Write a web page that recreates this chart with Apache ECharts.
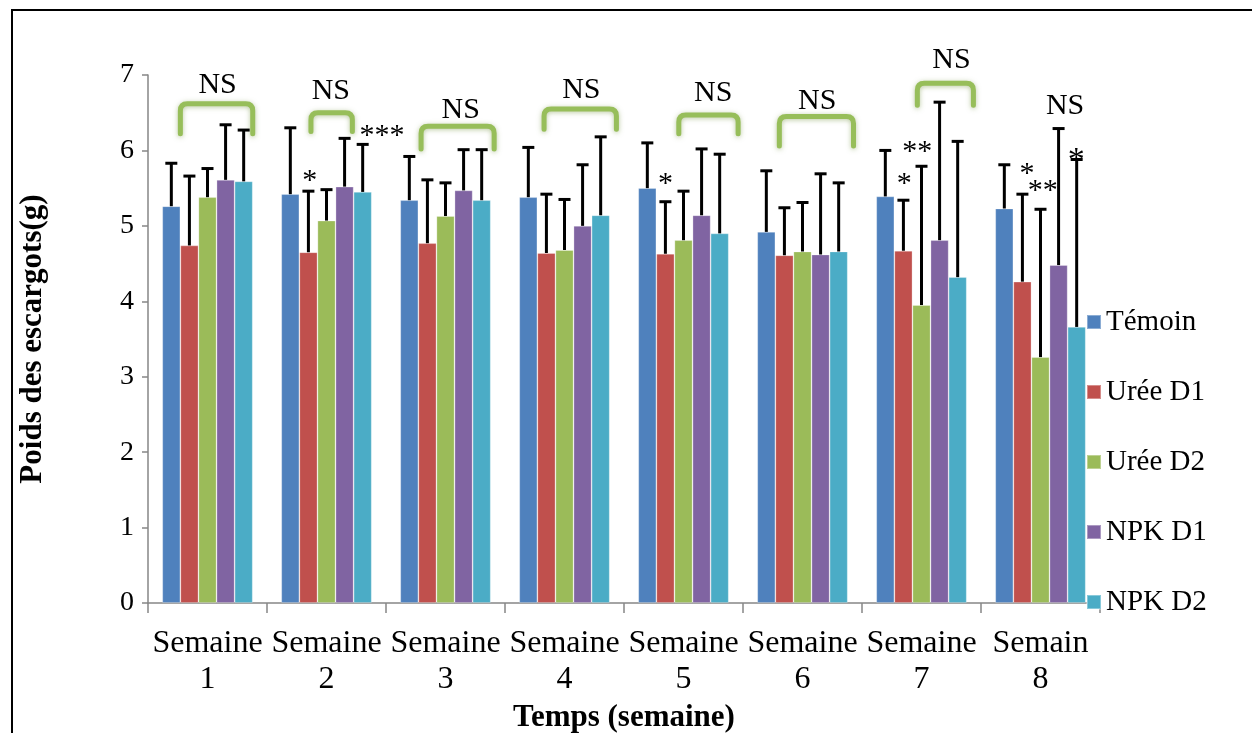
<!DOCTYPE html>
<html>
<head>
<meta charset="utf-8">
<script src="https://cdn.jsdelivr.net/npm/echarts@6/dist/echarts.min.js"></script>
<style>
  html, body { margin: 0; padding: 0; background: #fff; }
  #chart { width: 1252px; height: 733px; }
</style>
</head>
<body>
<div id="chart"></div>
<script>
// Semaines (catégories de l'axe X)
const categories = ['Semaine\n1', 'Semaine\n2', 'Semaine\n3', 'Semaine\n4',
                    'Semaine\n5', 'Semaine\n6', 'Semaine\n7', 'Semain\n8'];

// Noms des traitements
const seriesNames = ['Témoin', 'Urée D1', 'Urée D2', 'NPK D1', 'NPK D2'];

// Poids moyens des escargots (g) par semaine
const temoin = [5.26, 5.42, 5.34, 5.38, 5.50, 4.92, 5.39, 5.23];
const ureeD1 = [4.74, 4.65, 4.77, 4.64, 4.63, 4.61, 4.67, 4.26];
const ureeD2 = [5.38, 5.07, 5.13, 4.68, 4.81, 4.66, 3.95, 3.26];
const npkD1  = [5.61, 5.52, 5.47, 5.00, 5.14, 4.62, 4.81, 4.48];
const npkD2  = [5.59, 5.45, 5.34, 5.14, 4.90, 4.66, 4.32, 3.66];

// Écarts-types (barres d'erreur supérieures)
const temoinSd = [0.57, 0.88, 0.58, 0.66, 0.60, 0.81, 0.61, 0.58];
const ureeD1Sd = [0.92, 0.81, 0.84, 0.78, 0.69, 0.63, 0.67, 1.16];
const ureeD2Sd = [0.38, 0.41, 0.44, 0.67, 0.65, 0.65, 1.84, 1.96];
const npkD1Sd  = [0.73, 0.64, 0.54, 0.81, 0.88, 1.07, 1.83, 1.81];
const npkD2Sd  = [0.68, 0.63, 0.67, 1.04, 1.05, 0.91, 1.80, 2.22];

// Graduations de l'axe Y
const yTicks = [0, 1, 2, 3, 4, 5, 6, 7];

// Accolades de comparaison : [semaine, début (rang de barre), fin, haut, bas des branches]
const brackets = [
  [0, 1.00, 5.00, 6.62, 6.22],
  [1, 1.64, 3.93, 6.50, 6.25],
  [2, 1.15, 5.19, 6.32, 6.02],
  [3, 1.37, 5.37, 6.55, 6.28],
  [4, 2.24, 5.52, 6.47, 6.22],
  [5, 1.22, 5.32, 6.45, 6.06],
  [6, 2.27, 5.37, 6.89, 6.60]
];

// Mentions « NS » : [semaine, position (rang de barre), hauteur]
const nsLabels = [
  [0, 3.06, 6.87],
  [1, 2.74, 6.78],
  [2, 3.34, 6.54],
  [3, 3.43, 6.80],
  [4, 4.14, 6.76],
  [5, 3.31, 6.66],
  [6, 4.16, 7.20],
  [7, 3.86, 6.59]
];

// Seuils de signification : [semaine, position, hauteur, texte, taille]
const stars = [
  [1, 1.58, 5.70, '*', 30],
  [1, 5.57, 6.30, '***', 30],
  [4, 1.51, 5.66, '*', 30],
  [6, 1.55, 5.66, '*', 30],
  [6, 2.27, 6.08, '**', 30],
  [7, 1.75, 5.79, '*', 30],
  [7, 2.62, 5.57, '**', 30],
  [7, 4.48, 5.96, '*', 34]
];

const colors = ['#4F81BD', '#C0504D', '#9BBB59', '#8064A2', '#4BACC6'];
const FONT = 'Liberation Serif';
const CAT_GAP = 0.24;   // espace entre groupes (fraction de la largeur de catégorie)
const N_BARS = 5;

const means = [temoin, ureeD1, ureeD2, npkD1, npkD2];
const sds = [temoinSd, ureeD1Sd, ureeD2Sd, npkD1Sd, npkD2Sd];

// position horizontale d'un rang de barre dans un groupe (0 = bord gauche de la 1re barre)
function slotX(api, cat, slot) {
  const center = api.coord([cat, 0])[0];
  const catW = api.size([1, 0])[0];
  const barW = catW * (1 - CAT_GAP) / N_BARS;
  return center - (N_BARS / 2) * barW + slot * barW;
}

const errData = [];
means.forEach((arr, s) => {
  arr.forEach((v, c) => errData.push([c, s, v, sds[s][c]]));
});

const barSeries = seriesNames.map((name, i) => ({
  name: name,
  type: 'bar',
  data: means[i],
  barGap: '0%',
  barCategoryGap: (CAT_GAP * 100) + '%',
  itemStyle: { color: colors[i], borderColor: 'rgba(255,255,255,0.35)', borderWidth: 0.8 },
  z: 2
}));

const errorSeries = {
  type: 'custom',
  name: 'erreurs',
  silent: true,
  z: 5,
  data: errData,
  encode: { x: 0, y: 2 },
  renderItem: function (params, api) {
    const cat = api.value(0), s = api.value(1), m = api.value(2), sd = api.value(3);
    const x = slotX(api, cat, s + 0.5);
    const y0 = api.coord([cat, m])[1];
    const y1 = api.coord([cat, m + sd])[1];
    const capHalf = 6;
    return {
      type: 'group',
      children: [
        { type: 'line', shape: { x1: x, y1: y0, x2: x, y2: y1 },
          style: { stroke: '#000', lineWidth: 3 } },
        { type: 'line', shape: { x1: x - capHalf, y1: y1, x2: x + capHalf, y2: y1 },
          style: { stroke: '#000', lineWidth: 3 } }
      ]
    };
  }
};

const bracketSeries = {
  type: 'custom',
  name: 'accolades',
  silent: true,
  z: 4,
  data: brackets,
  encode: { x: 0, y: 3 },
  renderItem: function (params, api) {
    const cat = api.value(0);
    const xa = slotX(api, cat, api.value(1));
    const xb = slotX(api, cat, api.value(2));
    const yt = api.coord([cat, api.value(3)])[1];
    const yb = api.coord([cat, api.value(4)])[1];
    const r = 7;
    const path = 'M' + xa + ' ' + yb + ' L' + xa + ' ' + (yt + r) +
      ' Q' + xa + ' ' + yt + ' ' + (xa + r) + ' ' + yt +
      ' L' + (xb - r) + ' ' + yt +
      ' Q' + xb + ' ' + yt + ' ' + xb + ' ' + (yt + r) +
      ' L' + xb + ' ' + yb;
    return {
      type: 'path',
      shape: { pathData: path },
      style: {
        fill: null, stroke: '#97BE5A', lineWidth: 5, lineCap: 'round', lineJoin: 'round',
        shadowBlur: 5, shadowColor: 'rgba(120,150,70,0.5)', shadowOffsetY: 1
      }
    };
  }
};

const nsSeries = {
  type: 'custom',
  name: 'ns',
  silent: true,
  z: 6,
  data: nsLabels,
  encode: { x: 0, y: 2 },
  renderItem: function (params, api) {
    const cat = api.value(0);
    return {
      type: 'text',
      style: {
        text: 'NS', x: slotX(api, cat, api.value(1)), y: api.coord([cat, api.value(2)])[1],
        fontFamily: FONT, fontSize: 30, fill: '#000', align: 'center', verticalAlign: 'middle'
      }
    };
  }
};

const starSeries = {
  type: 'custom',
  name: 'etoiles',
  silent: true,
  z: 6,
  data: stars.map(d => [d[0], d[1], d[2], d[4], d[3]]),
  encode: { x: 0, y: 2 },
  renderItem: function (params, api) {
    const d = stars[params.dataIndex];
    const cat = d[0];
    return {
      type: 'text',
      style: {
        text: d[3], x: slotX(api, cat, d[1]), y: api.coord([cat, d[2]])[1] + 8,
        fontFamily: FONT, fontSize: d[4], fill: '#000', align: 'center', verticalAlign: 'middle'
      }
    };
  }
};

const chart = echarts.init(document.getElementById('chart'), null, { renderer: 'canvas' });

chart.setOption({
  animation: false,
  backgroundColor: '#fff',
  textStyle: { fontFamily: FONT },
  graphic: [{
    type: 'rect',
    shape: { x: 12, y: 10, width: 1300, height: 800 },
    style: { fill: null, stroke: '#000', lineWidth: 2 },
    silent: true, z: 100
  }],
  grid: { left: 148, right: 152, top: 75, bottom: 130, containLabel: false, outerBoundsMode: 'none' },
  legend: {
    data: seriesNames,
    orient: 'vertical',
    left: 1081,
    top: 302,
    icon: 'rect',
    itemWidth: 14,
    itemHeight: 14,
    itemGap: 40,
    textStyle: { fontFamily: FONT, fontSize: 29, color: '#000', lineHeight: 30 }
  },
  xAxis: {
    type: 'category',
    data: categories,
    name: 'Temps (semaine)',
    nameLocation: 'middle',
    nameGap: 98,
    nameTextStyle: { fontFamily: FONT, fontSize: 31, fontWeight: 'bold', color: '#000' },
    axisLine: { lineStyle: { color: '#868686', width: 1.5 } },
    axisTick: { show: true, length: 10, lineStyle: { color: '#868686', width: 1.5 } },
    axisLabel: { interval: 0, fontFamily: FONT, fontSize: 32, lineHeight: 36, margin: 23, color: '#000' }
  },
  yAxis: {
    type: 'value',
    min: yTicks[0],
    max: yTicks[yTicks.length - 1],
    interval: 1,
    name: 'Poids des escargots(g)',
    nameLocation: 'middle',
    nameGap: 100,
    nameRotate: 90,
    nameTextStyle: { fontFamily: FONT, fontSize: 31, fontWeight: 'bold', color: '#000' },
    splitLine: { show: false },
    axisLine: { show: true, lineStyle: { color: '#868686', width: 1.5 } },
    axisTick: { show: true, length: 6, lineStyle: { color: '#868686', width: 1.5 } },
    axisLabel: { fontFamily: FONT, fontSize: 28, margin: 14, color: '#000' }
  },
  series: barSeries.concat([bracketSeries, errorSeries, nsSeries, starSeries])
});
</script>
</body>
</html>
